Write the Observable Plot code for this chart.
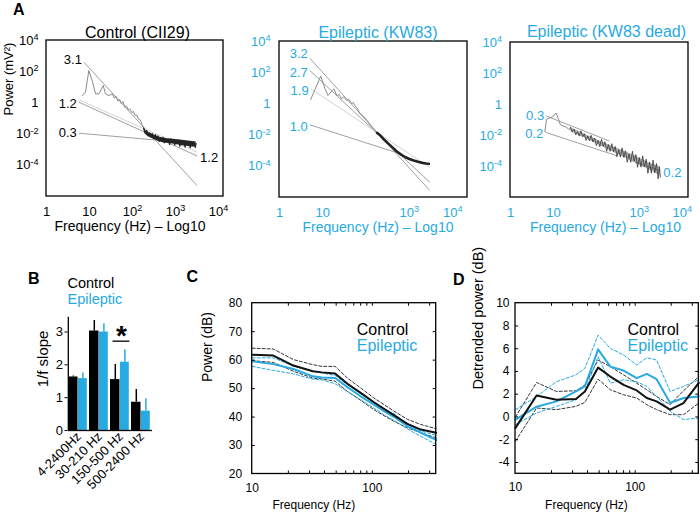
<!DOCTYPE html>
<html><head><meta charset="utf-8">
<script src="https://cdn.jsdelivr.net/npm/d3@7"></script>
<script src="https://cdn.jsdelivr.net/npm/@observablehq/plot@0.6"></script>
<style>
body{margin:0;background:#fff;}
#fig{position:relative;width:700px;height:518px;overflow:hidden;font-family:"Liberation Sans",Arial,Helvetica,sans-serif;}
.letter{position:absolute;font-weight:bold;font-size:16px;line-height:16px;}
</style></head><body><div id="fig"></div>
<script>
const CYAN = "#27aae1";
const FONT = '"Liberation Sans", Arial, Helvetica, sans-serif';

// ---------------- Panel A data ----------------
const aYDomain = [1e-6, 1e4];
const aYTicks = [1e-4, 1e-2, 1, 1e2, 1e4];
const aYTickLabels = ["10^-4", "10^-2", "1", "10^2", "10^4"];
const a1XTicks = [1, 10, 100, 1000, 10000];
const a1XTickLabels = ["1", "10", "10^2", "10^3", "10^4"];
const a23XTicks = [1, 10, 1000, 10000];
const a23XTickLabels = ["1", "10", "10^3", "10^4"];
const aTitles = ["Control (CII29)", "Epileptic (KW83)", "Epileptic (KW83 dead)"];

// spectra as [log10 frequency (Hz), log10 power (mV²)]
const a1Spectrum = [[0.83,0.47],[0.907,0.69],[0.984,2.08],[1.06,1.44],[1.14,0.58],[1.22,0.58],[1.32,1.12],[1.37,0.58],[1.45,0.47],[1.53,0.58],[1.58,0.3],[1.62,0.42],[1.66,0.12],[1.7,0.22],[1.74,-0.06],[1.78,0.08],[1.82,-0.28],[1.86,-0.2],[1.9,-0.45],[1.94,-0.38],[1.98,-0.62],[2.02,-0.55],[2.06,-0.82],[2.1,-0.78],[2.14,-1.05],[2.18,-1.1],[2.22,-1.38],[2.26,-1.6]];
const a1Noise = [[2.26,-1.6],[2.3,-1.98],[2.33,-1.76],[2.37,-2.12],[2.4,-1.9],[2.43,-2.05],[2.46,-1.95],[2.5,-2.32],[2.53,-2.02],[2.56,-2.25],[2.59,-2.1],[2.62,-2.5],[2.65,-2.2],[2.68,-2.4],[2.71,-2.18],[2.74,-2.58],[2.77,-2.28],[2.8,-2.45],[2.83,-2.3],[2.86,-2.7],[2.89,-2.3],[2.92,-2.55],[2.95,-2.34],[2.98,-2.72],[3.01,-2.4],[3.04,-2.6],[3.07,-2.35],[3.1,-2.8],[3.13,-2.42],[3.16,-2.62],[3.19,-2.44],[3.22,-2.85],[3.25,-2.45],[3.28,-2.66],[3.31,-2.5],[3.34,-2.9],[3.37,-2.48],[3.4,-2.7],[3.43,-2.52],[3.46,-2.88],[3.48,-2.6]];
// noise band envelope: [log f, log P low, log P high]
const a1Band = [[2.26,-1.7,-1.55],[2.3,-2.0,-1.75],[2.5,-2.35,-2.05],[2.7,-2.55,-2.25],[2.9,-2.62,-2.32],[3.1,-2.72,-2.38],[3.3,-2.8,-2.45],[3.48,-2.85,-2.5]];
// fits: [label at start, label at end, log f1, log P1, log f2, log P2]
const a1Fits = [["3.1","",0.87,2.61,3.5,-5.3],["1.2","",0.75,0.2,3.5,-3.16],["","1.2",0.75,0.05,3.5,-3.4],["0.3","",0.75,-1.94,2.65,-2.41]];

const a2Spectrum = [[0.72,0.28],[0.953,1.78],[1.05,0.97],[1.12,0.54],[1.22,0.86],[1.26,0.97],[1.32,0.54],[1.38,0.6],[1.43,0.33],[1.48,0.45],[1.55,0.22],[1.6,0.3],[1.67,0.01],[1.7,0.1],[1.74,-0.1],[1.8,-0.3],[1.86,-0.63],[1.94,-0.8],[2.02,-1.06],[2.1,-1.35],[2.17,-1.6],[2.25,-1.85],[2.33,-2.03]];
const a2Tail = [[2.25,-1.85],[2.33,-2.03],[2.42,-2.3],[2.52,-2.56],[2.62,-2.82],[2.71,-3.05],[2.81,-3.25],[2.91,-3.42],[3.0,-3.53],[3.1,-3.63],[3.2,-3.71],[3.3,-3.78],[3.38,-3.82],[3.45,-3.84]];
const a2Fits = [["3.2","",0.70,2.93,3.47,-5.55],["2.7","",0.70,2.14,3.47,-5.02],["1.9","",0.72,0.97,3.47,-4.06],["1.0","",0.70,-1.34,2.79,-3.2]];

const a3Spectrum = [[0.8,-1.75],[0.84,-0.95],[0.92,-0.85],[0.98,-0.8],[1.06,-0.55],[1.12,-0.95],[1.16,-1.3],[1.24,-1.4],[1.3,-1.45],[1.36,-1.62],[1.4,-1.47]];
const a3Noise = [[1.4,-1.47],[1.44,-1.77],[1.48,-1.58],[1.52,-1.96],[1.56,-1.75],[1.6,-2.04],[1.64,-1.7],[1.68,-2.08],[1.72,-1.89],[1.76,-2.32],[1.8,-2.03],[1.84,-2.35],[1.88,-1.99],[1.92,-2.42],[1.96,-2.16],[2.0,-2.65],[2.04,-2.32],[2.08,-2.72],[2.12,-2.24],[2.16,-2.69],[2.2,-2.4],[2.24,-3.02],[2.28,-2.58],[2.32,-3.02],[2.36,-2.53],[2.4,-3.05],[2.44,-2.71],[2.48,-3.37],[2.52,-2.92],[2.56,-3.39],[2.6,-2.8],[2.64,-3.41],[2.68,-2.99],[2.72,-3.73],[2.76,-3.18],[2.8,-3.73],[2.84,-3.02],[2.88,-3.66],[2.92,-3.23],[2.96,-4.05],[3.0,-3.43],[3.04,-4.04],[3.08,-3.32],[3.12,-4.03],[3.16,-3.53],[3.2,-4.44],[3.24,-3.72],[3.28,-4.43],[3.32,-3.59],[3.36,-4.41],[3.4,-3.81],[3.44,-4.79],[3.47,-4.03],[3.49,-4.68]];
const a3Band = [[1.4,-1.75,-1.5],[1.8,-2.25,-2.0],[2.2,-2.8,-2.5],[2.6,-3.35,-2.95],[3.0,-3.9,-3.45],[3.3,-4.3,-3.85],[3.49,-4.6,-4.0]];
const a3Fits = [["0.3","",0.83,-0.74,2.3,-2.35],["0.2","",0.81,-1.79,2.48,-3.31],["","0.2",2.9,-3.72,3.49,-4.28]];

// ---------------- Panel B data ----------------
const bGroups = ["4-2400Hz", "30-210 Hz", "150-500 Hz", "500-2400 Hz"];
const bControl = [1.63, 3.03, 1.55, 0.86];
const bControlTop = [1.66, 3.35, 2.01, 1.25];
const bEpileptic = [1.58, 3.0, 2.08, 0.59];
const bEpilepticTop = [1.75, 3.25, 2.46, 0.97];
const bYDomain = [0, 3.45];
const bYTicks = [0, 1, 2, 3];
const bSignificance = [{group: "150-500 Hz", bracket: 2.72, star: 3.05}];

// ---------------- Panels C, D data ----------------
const cdXDomain = [10, 340];
const cdFreqs = [10, 15, 22, 32, 38, 49, 62, 80, 103, 125, 151, 196, 253, 340];
const cdXTicks = [10, 30, 100];
const cdXTickLabels = ["10", "30", "100"];
const cdXMinor = [20, 30, 40, 50, 60, 70, 80, 90, 100, 200, 300];
const cControl = [61.9, 61.6, 58.1, 56.1, 55.7, 55.3, 51.7, 48.5, 45.2, 42.9, 40.7, 37.6, 35.6, 34.5];
const cControlHi = [64.2, 63.9, 60.2, 58.4, 57.8, 57.8, 53.7, 50.2, 46.7, 44.4, 42.1, 39.2, 37.4, 35.9];
const cControlLo = [59.8, 59.2, 56.1, 53.7, 53.4, 52.6, 49.0, 45.9, 42.6, 40.5, 38.5, 36.2, 34.5, 32.7];
const cEpileptic = [59.6, 58.6, 56.9, 54.3, 53.9, 53.7, 50.5, 47.3, 44.4, 42.1, 40.1, 36.8, 34.5, 32.0];
const cEpilepticHi = [60.8, 60.8, 57.9, 56.1, 55.5, 54.6, 51.4, 48.2, 45.2, 42.9, 41.2, 37.4, 35.1, 33.6];
const cEpilepticLo = [57.8, 56.4, 55.2, 53.3, 53.1, 51.7, 49.0, 46.1, 43.2, 40.8, 38.9, 35.8, 33.2, 30.4];
const cYDomain = [20, 80];
const cYTicks = [20, 30, 40, 50, 60, 70, 80];
const cYTickLabels = ["20", "30", "40", "50", "60", "70", "80"];

const dControl = [-0.96, 1.89, 1.51, 1.57, 2.24, 4.34, 3.55, 2.82, 2.33, 1.66, 1.37, 0.64, 1.22, 3.0];
const dControlHi = [0.0, 3.03, 2.24, 2.3, 2.8, 5.0, 4.42, 3.7, 2.97, 2.39, 1.8, 1.08, 2.3, 3.55];
const dControlLo = [-2.13, 0.79, 0.64, 0.93, 1.28, 3.32, 2.39, 1.95, 1.66, 1.08, 0.64, 0.2, 0.2, 1.22];
const dEpileptic = [-0.23, 0.9, 1.37, 2.24, 2.68, 5.94, 4.42, 4.08, 3.41, 3.78, 3.32, 1.22, 1.66, 1.8];
const dEpilepticHi = [0.64, 1.8, 3.1, 3.7, 4.28, 7.19, 6.03, 5.44, 4.57, 5.21, 5.0, 2.24, 2.68, 3.26];
const dEpilepticLo = [-0.67, 0.35, 0.93, 1.51, 2.24, 5.3, 2.97, 3.26, 3.1, 2.68, 1.8, 0.49, -0.23, -0.1];
const dYDomain = [-5, 10];
const dYTicks = [-4, -2, 0, 2, 4, 6, 8, 10];
const dYTickLabels = ["-4", "-2", "0", "2", "4", "6", "8", "10"];

// ---------------- helpers ----------------
const fig = document.getElementById("fig");
const toPts = arr => arr.map(([lf, lp]) => ({f: 10 ** lf, p: 10 ** lp}));
const toBand = arr => arr.map(([lf, lo, hi]) => ({f: 10 ** lf, lo: 10 ** lo, hi: 10 ** hi}));
const toFits = arr => arr.map(([s, e, lf1, lp1, lf2, lp2], i) => ({s, e, i, f1: 10 ** lf1, p1: 10 ** lp1, f2: 10 ** lf2, p2: 10 ** lp2}));
const lookup = (ticks, labels) => d => labels[ticks.indexOf(d)];
const series = vals => cdFreqs.map((f, i) => ({f, v: vals[i]}));
// plot box drawn as a rect over the full scale domains
const box = (xd, yd) => Plot.rect([{x1: xd[0], x2: xd[1], y1: yd[0], y2: yd[1]}], {x1: "x1", x2: "x2", y1: "y1", y2: "y2", fill: "none", stroke: "#000", strokeWidth: 1.3});

function supify(svg) {
  svg.querySelectorAll("text").forEach(node => {
    const m = /^10\^(-?\d+)$/.exec(node.textContent);
    if (!m) return;
    const t = d3.select(node);
    t.text(null);
    t.append("tspan").text("10");
    t.append("tspan").attr("dy", "-0.5em").attr("font-size", "0.7em").text(m[1]);
  });
}
function place(svg, left, top) {
  svg.style.position = "absolute";
  svg.style.left = left + "px";
  svg.style.top = top + "px";
  fig.appendChild(svg);
  supify(svg);
}
const baseStyle = () => ({fontFamily: FONT, fontSize: "13px", background: "none", overflow: "visible"});

function panelA(o) {
  const fits = toFits(o.fits);
  const lightFits = fits.filter(d => o.light.includes(d.i));
  const xDomain = [1, o.xMax];
  const marks = [
    Plot.link(fits.filter(d => !o.light.includes(d.i)), {x1: "f1", y1: "p1", x2: "f2", y2: "p2", stroke: "#a0a0a0", strokeWidth: 1}),
    ...(lightFits.length ? [Plot.link(lightFits, {x1: "f1", y1: "p1", x2: "f2", y2: "p2", stroke: "#d3d3d3", strokeWidth: 1})] : []),
    ...(o.band ? [Plot.areaY(toBand(o.band), {x: "f", y1: "lo", y2: "hi", fill: o.bandFill, fillOpacity: o.bandOpacity, curve: "monotone-x"})] : []),
    ...o.lines.map(([data, stroke, sw]) => Plot.line(toPts(data), {x: "f", y: "p", stroke, strokeWidth: sw})),
    ...o.labelDy.map((dy, i) => Plot.text(fits.filter(d => d.i === i && d.s), {x: "f1", y: "p1", text: "s", textAnchor: "end", dx: -2, dy, fontSize: 13, fill: o.color})),
    Plot.text(fits.filter(d => d.e), {x: "f2", y: "p2", text: "e", textAnchor: "start", dx: 3, dy: 2, fontSize: 13, fill: o.color}),
    box(xDomain, aYDomain),
    Plot.axisX(o.xTicks, {tickFormat: lookup(o.xTicks, o.xLabels), tickSize: 0, tickPadding: 10, fill: o.color, fontSize: 13, label: null}),
    Plot.axisY(aYTicks, {tickFormat: lookup(aYTicks, aYTickLabels), tickSize: 0, tickPadding: o.yPad, fill: o.color, fontSize: 13, label: null}),
    Plot.text([o.title], {text: d => d, frameAnchor: "top", dx: o.titleDx, dy: o.titleDy, fontSize: 16, fill: o.color}),
    Plot.text(["Frequency (Hz) – Log10"], {text: d => d, frameAnchor: "bottom", dx: o.xlabDx, dy: 34, fontSize: 14, fill: o.color}),
    ...(o.ylab ? [Plot.text([o.ylab], {text: d => d, frameAnchor: "left", rotate: -90, dx: -38, dy: -3, fontSize: 13})] : [])
  ];
  const svg = Plot.plot({
    width: o.width, height: 245,
    marginLeft: o.mLeft, marginRight: o.mRight, marginTop: o.mTop, marginBottom: o.mBottom,
    x: {type: "log", domain: xDomain},
    y: {type: "log", domain: aYDomain},
    style: baseStyle(),
    marks
  });
  place(svg, o.left, 0);
}

panelA({left: 0, width: 235, mLeft: 46, mRight: 12, mTop: 40, mBottom: 49, xMax: 13000,
  xTicks: a1XTicks, xLabels: a1XTickLabels, color: "#000", title: aTitles[0], titleDx: 2.5, titleDy: -14, xlabDx: -5, yPad: 8,
  ylab: "Power (mV²)", fits: a1Fits, light: [1], labelDy: [-2, 4, 0, 0],
  band: a1Band, bandFill: "#111", bandOpacity: 0.9,
  lines: [[a1Spectrum, "#8a8a8a", 1], [a1Noise, "#222", 1]]});

panelA({left: 230, width: 240, mLeft: 49, mRight: 3, mTop: 41, mBottom: 48, xMax: 22000,
  xTicks: a23XTicks, xLabels: a23XTickLabels, color: CYAN, title: aTitles[1], titleDx: 4.5, titleDy: -14.5, xlabDx: 4.5, yPad: 9,
  fits: a2Fits, light: [2], labelDy: [-4, 2, 2, 2],
  lines: [[a2Spectrum, "#8a8a8a", 1], [a2Tail, "#222", 2.6]]});

panelA({left: 460, width: 240, mLeft: 50, mRight: 12, mTop: 42, mBottom: 48, xMax: 14000,
  xTicks: a23XTicks, xLabels: a23XTickLabels, color: CYAN, title: aTitles[2], titleDx: 7, titleDy: -17, xlabDx: 6, yPad: 8.5,
  fits: a3Fits, light: [], labelDy: [0, 2, 0],
  band: a3Band, bandFill: "#555", bandOpacity: 0.45,
  lines: [[a3Spectrum, "#8a8a8a", 1], [a3Noise, "#333", 0.8]]});

// ---------------- Panel B ----------------
{
  const rows = bGroups.map((g, i) => ({g, c: bControl[i], cT: bControlTop[i], e: bEpileptic[i], eT: bEpilepticTop[i]}));
  const svg = Plot.plot({
    width: 170, height: 258, marginLeft: 67.5, marginRight: 17, marginTop: 56.7, marginBottom: 88,
    x: {domain: bGroups, paddingInner: 0, paddingOuter: 0},
    y: {domain: bYDomain},
    style: baseStyle(),
    marks: [
      Plot.barY(rows, {x: "g", y: "c", fill: "#000", insetRight: 11.5}),
      Plot.barY(rows, {x: "g", y: "e", fill: CYAN, insetLeft: 9.9, insetRight: 2.2}),
      Plot.ruleX(rows, {x: "g", y1: "c", y2: "cT", stroke: "#000", strokeWidth: 1.5, dx: -5.7}),
      Plot.ruleX(rows, {x: "g", y1: "e", y2: "eT", stroke: CYAN, strokeWidth: 1.5, dx: 3.9}),
      Plot.tickY(bSignificance, {x: "group", y: "bracket", stroke: "#000", strokeWidth: 1.3, insetLeft: 2.5, insetRight: 1.6}),
      Plot.text(bSignificance, {x: "group", y: "star", text: () => "*", fontSize: 28, fontWeight: "bold", dx: 0.5, dy: 6}),
      Plot.tickY(bGroups, {x: d => d, y: bYDomain[0], stroke: "#000", strokeWidth: 1.3}),
      Plot.ruleX(bGroups.slice(0, 1), {x: d => d, y1: bYDomain[0], y2: bYDomain[1], stroke: "#000", strokeWidth: 1.3, dx: -10.69}),
      Plot.axisY(bYTicks, {tickSize: 3, tickPadding: 2, fontSize: 13, label: null}),
      Plot.axisX(bGroups, {tickSize: 0, tickRotate: -45, tickPadding: 4, fontSize: 13, label: null}),
      Plot.text(["Control"], {text: d => d, frameAnchor: "top-left", textAnchor: "start", dx: -0.5, dy: -39, fontSize: 14.5}),
      Plot.text(["Epileptic"], {text: d => d, frameAnchor: "top-left", textAnchor: "start", dx: -0.5, dy: -23.5, fontSize: 14.5, fill: CYAN}),
      Plot.text(["1/f slope"], {text: d => d, frameAnchor: "left", rotate: -90, dx: -24.5, dy: 13.4, fontSize: 15})
    ]
  });
  place(svg, 0, 260);
}

// ---------------- Panels C and D ----------------
function panelCD(o) {
  const [y0, y1] = o.yDomain;
  const [x0, x1] = cdXDomain;
  const tk = {stroke: "#000", strokeWidth: 1};
  const svg = Plot.plot({
    width: o.width, height: 258, marginLeft: o.mLeft, marginRight: o.mRight, marginTop: 42.7, marginBottom: o.mBottom,
    x: {type: "log", domain: cdXDomain},
    y: {domain: o.yDomain},
    style: baseStyle(),
    marks: [
      Plot.line(series(o.ctrlHi), {x: "f", y: "v", stroke: "#333", strokeWidth: 1, strokeDasharray: "3,2"}),
      Plot.line(series(o.ctrlLo), {x: "f", y: "v", stroke: "#333", strokeWidth: 1, strokeDasharray: "3,2"}),
      Plot.line(series(o.epiHi), {x: "f", y: "v", stroke: CYAN, strokeWidth: 1, strokeDasharray: "3,2"}),
      Plot.line(series(o.epiLo), {x: "f", y: "v", stroke: CYAN, strokeWidth: 1, strokeDasharray: "3,2"}),
      Plot.line(series(o.epi), {x: "f", y: "v", stroke: CYAN, strokeWidth: 2}),
      Plot.line(series(o.ctrl), {x: "f", y: "v", stroke: "#111", strokeWidth: 2}),
      // short inward tick marks on all four sides
      Plot.ruleX(cdXMinor, {x: d => d, y1: y0, y2: y0 + o.tickY, ...tk}),
      Plot.ruleX(cdXMinor, {x: d => d, y1: y1 - o.tickY, y2: y1, ...tk}),
      Plot.ruleY(o.yInner, {y: d => d, x1: x0, x2: x0 * 1.06, ...tk}),
      Plot.ruleY(o.yInner, {y: d => d, x1: x1 / 1.06, x2: x1, ...tk}),
      box(cdXDomain, o.yDomain),
      Plot.axisX(cdXTicks, {anchor: "bottom", tickFormat: lookup(cdXTicks, cdXTickLabels), tickSize: 0, tickPadding: 9, fontSize: 12, label: null}),
      Plot.axisY(o.yTicks, {anchor: "left", tickFormat: lookup(o.yTicks, o.yLabels), tickSize: 0, tickPadding: o.yPad, fontSize: 12, label: null}),
      Plot.text(["Control"], {text: d => d, frameAnchor: "top-left", textAnchor: "start", dx: o.legDx, dy: 20.5, fontSize: 16}),
      Plot.text(["Epileptic"], {text: d => d, frameAnchor: "top-left", textAnchor: "start", dx: o.legDx, dy: 36.5, fontSize: 16, fill: CYAN}),
      Plot.text(["Frequency (Hz)"], {text: d => d, frameAnchor: "bottom", dx: o.xlabDx, dy: 35, fontSize: 12}),
      Plot.text([o.ylab], {text: d => d, frameAnchor: "left", rotate: -90, dx: o.ylabDx, dy: o.ylabDy, fontSize: o.ylabSize})
    ]
  });
  place(svg, o.left, 260);
}

panelCD({left: 170, width: 270, mLeft: 81.7, mRight: 4.3, mBottom: 44.5, yDomain: cYDomain, tickY: 1.05,
  yTicks: cYTicks, yLabels: cYTickLabels, yInner: [30, 40, 50, 60, 70], yPad: 10,
  ctrl: cControl, ctrlHi: cControlHi, ctrlLo: cControlLo, epi: cEpileptic, epiHi: cEpilepticHi, epiLo: cEpilepticLo,
  legDx: 104.6, xlabDx: -30.4, ylab: "Power (dB)", ylabDx: -44.2, ylabDy: -6.6, ylabSize: 14});

panelCD({left: 440, width: 260, mLeft: 75, mRight: 1.7, mBottom: 44.7, yDomain: dYDomain, tickY: 0.27,
  yTicks: dYTicks, yLabels: dYTickLabels, yInner: [-4, -2, 0, 2, 4, 6, 8], yPad: 6,
  ctrl: dControl, ctrlHi: dControlHi, ctrlLo: dControlLo, epi: dEpileptic, epiHi: dEpilepticHi, epiLo: dEpilepticLo,
  legDx: 112, xlabDx: -20.7, ylab: "Detrended power (dB)", ylabDx: -37.5, ylabDy: 1, ylabSize: 14.5});

// panel letters
[["A", 13, 2.3], ["B", 28, 270.6], ["C", 186.5, 268.8], ["D", 453, 272.4]].forEach(([t, x, y]) => {
  const d = document.createElement("div");
  d.className = "letter"; d.textContent = t;
  d.style.left = x + "px"; d.style.top = y + "px";
  fig.appendChild(d);
});
</script></body></html>
